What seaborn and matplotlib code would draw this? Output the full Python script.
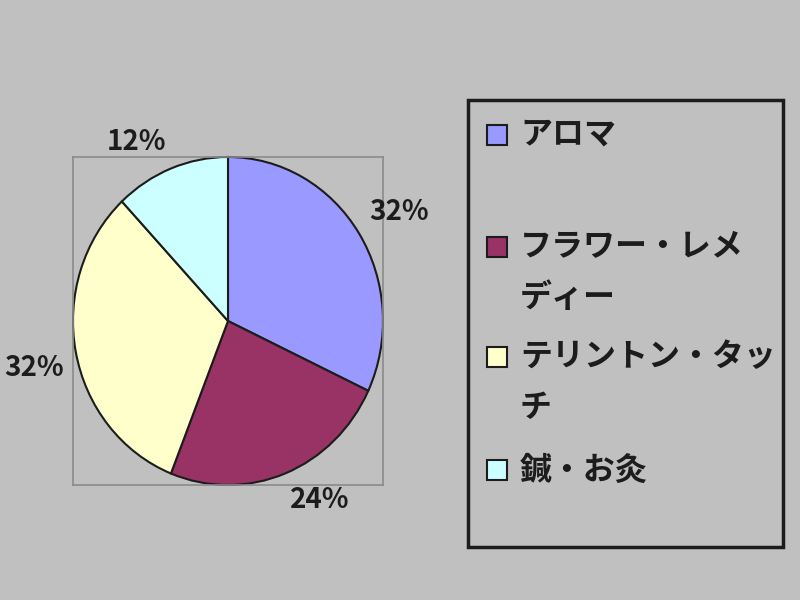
import matplotlib
matplotlib.use('Agg')
import seaborn as sns
from matplotlib import pyplot as plt
from matplotlib.patches import Rectangle

# data
categories = ['アロマ', 'フラワー・レメディー', 'テリントン・タッチ', '鍼・お灸']
legend_rows = [['アロマ'], ['フラワー・レメ', 'ディー'], ['テリントン・タッ', 'チ'], ['鍼・お灸']]
shares = [32, 24, 32, 12]
colors = ['#9999FF', '#993366', '#FFFFCC', '#CCFFFF']

bg = '#C0C0C0'
ink = '#1c1c1c'

sns.set_theme(style='white', rc={'figure.facecolor': bg, 'axes.facecolor': bg})
plt.rcParams['font.family'] = ['Noto Sans CJK JP', 'DejaVu Sans']

W, H = 800, 600
fig = plt.figure(figsize=(W / 100, H / 100), dpi=100)


def fx(x):
    return x / W


def fy(y):
    return 1 - y / H


# plot area box with the pie filling it (slightly taller than wide)
ax = fig.add_axes([fx(73), fy(485), (383 - 73) / W, (485 - 157) / H])
pct_labels = ['%d%%' % v for v in shares]
wedges, texts = ax.pie(
    shares, colors=colors, startangle=90, counterclock=False,
    labels=pct_labels, labeldistance=1.08, frame=True,
    wedgeprops=dict(edgecolor=ink, linewidth=1.5),
    textprops=dict(fontsize=20, color=ink, fontweight='bold'))
ax.set_aspect('auto')
ax.set_xlim(-1.0, 1.0)
ax.set_ylim(-1.0, 1.0)
ax.set_xticks([])
ax.set_yticks([])
for s in ax.spines.values():
    s.set_visible(True)
    s.set_color('#8a8a8a')
    s.set_linewidth(1.2)
# excel style: label corner sits just outside the rim
for t in texts:
    t.set_clip_on(False)
    t.set_va('bottom' if t.get_position()[1] > 0 else 'top')

# legend box, drawn by hand so wrapped labels keep the marker on the first line
fig.add_artist(Rectangle((fx(468), fy(547)), (783 - 468) / W, (547 - 100) / H,
                         transform=fig.transFigure, fill=False,
                         edgecolor=ink, linewidth=2.5))
row_y = [135, 247, 357, 470]
line_gap = 51
msz = 20
for lines, c, y in zip(legend_rows, colors, row_y):
    fig.add_artist(Rectangle((fx(487), fy(y + msz / 2)), msz / W, msz / H,
                             transform=fig.transFigure, facecolor=c,
                             edgecolor=ink, linewidth=1.5))
    for i, line in enumerate(lines):
        fig.text(fx(520), fy(y + i * line_gap), line, fontsize=23,
                 color=ink, ha='left', va='center', fontweight='bold')

fig.savefig('out.png', dpi=100, facecolor=bg)
